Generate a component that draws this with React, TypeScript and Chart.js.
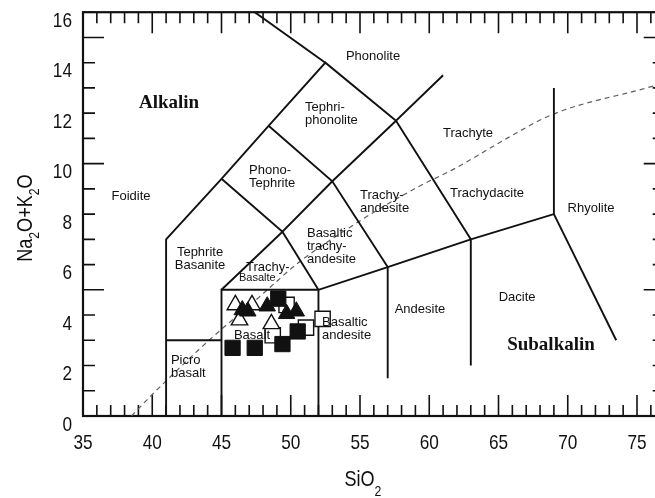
import React, { useEffect, useRef } from "react";
import { Chart, registerables } from "chart.js";

Chart.register(...registerables);

// ---- Axis ticks ----
const xTickLabels = [35, 40, 45, 50, 55, 60, 65, 70, 75];
const yTickLabels = [0, 2, 4, 6, 8, 10, 12, 14, 16];
const xRange = [35, 77];
const yRange = [0, 16];

// ---- Samples (SiO2, Na2O+K2O) ----
const filledSquares = [
  { x: 49.1, y: 4.65 },
  { x: 50.5, y: 3.35 },
  { x: 49.4, y: 2.85 },
  { x: 45.8, y: 2.7 },
  { x: 47.4, y: 2.7 },
];
const openSquares = [
  { x: 49.7, y: 4.4 },
  { x: 51.1, y: 3.5 },
  { x: 52.3, y: 3.85 },
  { x: 48.7, y: 3.2 },
];
const filledTriangles = [
  { x: 46.5, y: 4.2 },
  { x: 46.9, y: 4.15 },
  { x: 48.3, y: 4.35 },
  { x: 49.7, y: 4.05 },
  { x: 50.4, y: 4.15 },
];
const openTriangles = [
  { x: 46.0, y: 4.4 },
  { x: 47.2, y: 4.4 },
  { x: 46.3, y: 3.8 },
  { x: 48.6, y: 3.65 },
];

// ---- TAS field boundaries ----
const boundaryLines = [
  [[41, 0], [41, 7], [45, 9.4], [48.4, 11.5], [52.5, 14], [57.6, 11.7], [61, 13.5]],
  [[52.5, 14], [47.4, 16]],
  [[41, 3], [45, 3]],
  [[45, 0], [45, 5], [52, 5], [57, 5.9], [63, 7], [69, 8], [69, 13]],
  [[45, 5], [49.4, 7.3], [52, 5], [52, 0]],
  [[45, 9.4], [49.4, 7.3], [53, 9.3], [57.6, 11.7]],
  [[48.4, 11.5], [53, 9.3], [57, 5.9], [57, 1.5]],
  [[57.6, 11.7], [63, 7], [63, 2.0]],
  [[69, 8], [73.5, 3.0]],
];

// ---- Alkaline / subalkaline divide ----
const divideSiO2 = [38.5, 40, 44, 47.8, 50.5, 54.9, 59.1, 62, 65.6, 68.9, 75.7, 77];
const divideAlk = [0, 0.85, 2.95, 4.75, 6.05, 7.7, 9.05, 9.85, 11.0, 11.95, 13.0, 13.2];

// ---- Field names ----
type FieldLabel = { lines: string[]; x: number; y: number; align: CanvasTextAlign; size: number; bold?: boolean };
const fieldLabels: FieldLabel[] = [
  { lines: ["Phonolite"], x: 55.94, y: 14.23, align: "center", size: 13 },
  { lines: ["Tephri-", "phonolite"], x: 51.03, y: 12.21, align: "left", size: 13 },
  { lines: ["Alkalin"], x: 41.21, y: 12.41, align: "center", size: 19, bold: true },
  { lines: ["Foidite"], x: 38.47, y: 8.7, align: "center", size: 13 },
  { lines: ["Phono-", "Tephrite"], x: 46.99, y: 9.72, align: "left", size: 13 },
  { lines: ["Trachy-", "andesite"], x: 55.0, y: 8.74, align: "left", size: 13 },
  { lines: ["Basaltic", "trachy-", "andesite"], x: 51.17, y: 7.23, align: "left", size: 13 },
  { lines: ["Trachy-"], x: 46.77, y: 5.89, align: "left", size: 13 },
  { lines: ["Basalte"], x: 46.26, y: 5.45, align: "left", size: 11 },
  { lines: ["Tephrite", "Basanite"], x: 43.45, y: 6.48, align: "center", size: 13 },
  { lines: ["Trachyte"], x: 62.8, y: 11.19, align: "center", size: 13 },
  { lines: ["Trachydacite"], x: 64.17, y: 8.81, align: "center", size: 13 },
  { lines: ["Rhyolite"], x: 71.68, y: 8.22, align: "center", size: 13 },
  { lines: ["Andesite"], x: 59.33, y: 4.23, align: "center", size: 13 },
  { lines: ["Dacite"], x: 66.34, y: 4.7, align: "center", size: 13 },
  { lines: ["Subalkalin"], x: 68.79, y: 2.81, align: "center", size: 19, bold: true },
  { lines: ["Basaltic", "andesite"], x: 52.26, y: 3.72, align: "left", size: 13 },
  { lines: ["Basalt"], x: 47.2, y: 3.2, align: "center", size: 13 },
  { lines: ["Picro", "basalt"], x: 41.35, y: 2.21, align: "left", size: 13 },
];

const INK = "#111111";
const SANS = '"Liberation Sans", Arial, sans-serif';
const SERIF = '"Liberation Serif", "Times New Roman", serif';
const NARROW = 0.82;

function narrowText(ctx: CanvasRenderingContext2D, text: string, x: number, y: number, align: CanvasTextAlign) {
  ctx.save();
  ctx.translate(x, y);
  ctx.scale(NARROW, 1);
  ctx.textAlign = align;
  ctx.fillText(text, 0, 0);
  ctx.restore();
}

function drawSubText(ctx: CanvasRenderingContext2D, parts: [string, boolean][], mainSize: number, subSize: number, subDrop: number) {
  const widths = parts.map(([t, sub]) => {
    ctx.font = `${sub ? subSize : mainSize}px ${SANS}`;
    return ctx.measureText(t).width * NARROW;
  });
  const total = widths.reduce((a, b) => a + b, 0);
  let cx = -total / 2;
  parts.forEach(([t, sub], i) => {
    ctx.font = `${sub ? subSize : mainSize}px ${SANS}`;
    ctx.save();
    ctx.translate(cx, sub ? subDrop : 0);
    ctx.scale(NARROW, 1);
    ctx.textAlign = "left";
    ctx.textBaseline = "alphabetic";
    ctx.fillText(t, 0, 0);
    ctx.restore();
    cx += widths[i];
  });
}

const framePlugin = {
  id: "tasFrame",
  beforeDatasetsDraw(chart: any) {
    const { ctx, chartArea: a, scales } = chart;
    const xs = scales.x;
    const ys = scales.y;
    ctx.save();
    ctx.strokeStyle = INK;
    ctx.lineWidth = 1.6;
    ctx.beginPath();
    for (let v = xRange[0]; v <= xRange[1]; v++) {
      const px = xs.getPixelForValue(v);
      const len = v % 5 === 0 ? 21 : 11;
      ctx.moveTo(px, a.bottom);
      ctx.lineTo(px, a.bottom - len);
      ctx.moveTo(px, a.top);
      ctx.lineTo(px, a.top + len);
    }
    for (let v = yRange[0]; v <= yRange[1]; v++) {
      const py = ys.getPixelForValue(v);
      const len = v % 5 === 0 ? 21 : 12;
      ctx.moveTo(a.left, py);
      ctx.lineTo(a.left + len, py);
      ctx.moveTo(a.right, py);
      ctx.lineTo(a.right - len, py);
    }
    ctx.stroke();
    ctx.lineWidth = 2.2;
    ctx.strokeRect(a.left, a.top, a.right - a.left, a.bottom - a.top);

    ctx.fillStyle = INK;
    ctx.font = `21px ${SANS}`;
    ctx.textBaseline = "alphabetic";
    xTickLabels.forEach((v) => {
      narrowText(ctx, String(v), xs.getPixelForValue(v), a.bottom + 33, "center");
    });
    yTickLabels.forEach((v) => {
      narrowText(ctx, String(v), a.left - 11, ys.getPixelForValue(v) + 14.5, "right");
    });

    ctx.save();
    ctx.translate((a.left + a.right) / 2 - 11, 486);
    drawSubText(ctx, [["SiO", false], ["2", true]], 22, 15, 10);
    ctx.restore();

    ctx.save();
    ctx.translate(32, (a.top + a.bottom) / 2 + 4);
    ctx.rotate(-Math.PI / 2);
    drawSubText(ctx, [["Na", false], ["2", true], ["O+K", false], ["2", true], ["O", false]], 22, 15, 7);
    ctx.restore();
    ctx.restore();
  },
  afterDatasetsDraw(chart: any) {
    const { ctx, scales } = chart;
    const xs = scales.x;
    const ys = scales.y;
    ctx.save();
    ctx.fillStyle = INK;
    ctx.textBaseline = "middle";
    fieldLabels.forEach((l) => {
      ctx.font = l.bold ? `bold ${l.size}px ${SERIF}` : `${l.size}px ${SANS}`;
      ctx.textAlign = l.align;
      const px = xs.getPixelForValue(l.x);
      const py = ys.getPixelForValue(l.y);
      l.lines.forEach((t, i) => ctx.fillText(t, px, py + i * 13));
    });
    ctx.restore();
  },
};

export default function App() {
  const ref = useRef<HTMLCanvasElement | null>(null);
  useEffect(() => {
    document.body.style.margin = "0";
    document.body.style.overflow = "hidden";
    const canvas = ref.current;
    if (!canvas) return;
    const lineSets = boundaryLines.map((pts) => ({
      type: "scatter" as const,
      data: pts.map(([x, y]) => ({ x, y })),
      showLine: true,
      borderColor: INK,
      borderWidth: 1.9,
      pointRadius: 0,
      fill: false,
      order: 5,
    }));
    const divide = {
      type: "scatter" as const,
      data: divideSiO2.map((x, i) => ({ x, y: divideAlk[i] })),
      showLine: true,
      borderColor: "#5e5e5e",
      borderWidth: 1.2,
      borderDash: [5, 4],
      pointRadius: 0,
      cubicInterpolationMode: "monotone" as const,
      fill: false,
      order: 6,
    };
    const chart = new Chart(canvas, {
      type: "scatter",
      data: {
        datasets: [
          {
            data: filledTriangles,
            pointStyle: "triangle",
            pointRadius: 9.5,
            backgroundColor: INK,
            borderColor: INK,
            borderWidth: 1,
            order: 0,
          },
          {
            data: openTriangles,
            pointStyle: "triangle",
            pointRadius: 9.5,
            backgroundColor: "#ffffff",
            borderColor: INK,
            borderWidth: 1.4,
            order: 1,
          },
          {
            data: filledSquares,
            pointStyle: "rect",
            pointRadius: 10.8,
            backgroundColor: INK,
            borderColor: INK,
            borderWidth: 1,
            order: 2,
          },
          {
            data: openSquares,
            pointStyle: "rect",
            pointRadius: 10.8,
            backgroundColor: "#ffffff",
            borderColor: INK,
            borderWidth: 1.4,
            order: 3,
          },
          ...lineSets,
          divide,
        ] as any,
      },
      options: {
        animation: false,
        responsive: false,
        layout: { padding: { left: 83, top: 11, right: 680 - 664.7, bottom: 82 } },
        scales: {
          x: { type: "linear", min: xRange[0], max: xRange[1], display: false },
          y: { type: "linear", min: yRange[0], max: yRange[1], display: false },
        },
        plugins: { legend: { display: false }, tooltip: { enabled: false } },
      },
      plugins: [framePlugin],
    });
    return () => chart.destroy();
  }, []);
  return (
    <div style={{ width: 655, height: 498, overflow: "hidden", position: "relative", background: "#fff" }}>
      <canvas ref={ref} width={680} height={498} style={{ width: 680, height: 498, display: "block" }} />
    </div>
  );
}
